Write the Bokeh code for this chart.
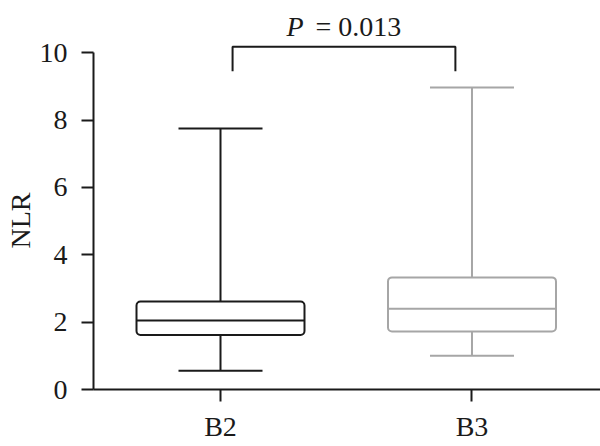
from bokeh.plotting import figure
from bokeh.models import Range1d, FixedTicker, ColumnDataSource, Title
from bokeh.core.properties import value
from bokeh.embed import file_html
from bokeh.resources import INLINE

# ---- data ----
groups = ["B2", "B3"]
positions = [1, 2]
whisker_low = [0.56, 1.0]
q1 = [1.62, 1.72]
median = [2.05, 2.40]
q3 = [2.61, 3.33]
whisker_high = [7.75, 8.97]
colors = ["#1a1a1a", "#a6a6a6"]
p_label = "0.013"
y_ticks = [0, 2, 4, 6, 8, 10]
y_title = "NLR"

FONT = "Liberation Serif"
FS = "28px"
INK = "#1a1a1a"

p = figure(width=600, height=446, output_backend="svg", toolbar_location=None,
           x_range=Range1d(0.495, 2.511), y_range=Range1d(0, 11.553),
           min_border_left=93, min_border_right=0, min_border_top=0,
           min_border_bottom=57)
p.outline_line_color = None
p.grid.visible = False
p.background_fill_color = "white"

box_w = 0.668
cap_w = 0.334
src = ColumnDataSource(dict(
    x=positions,
    left=[x - box_w / 2 for x in positions],
    right=[x + box_w / 2 for x in positions],
    capl=[x - cap_w / 2 for x in positions],
    capr=[x + cap_w / 2 for x in positions],
    lo=whisker_low, q1=q1, med=median, q3=q3, hi=whisker_high, color=colors))

# whiskers
p.segment(x0="x", y0="q3", x1="x", y1="hi", line_color="color", line_width=2, source=src)
p.segment(x0="x", y0="lo", x1="x", y1="q1", line_color="color", line_width=2, source=src)
p.segment(x0="capl", y0="hi", x1="capr", y1="hi", line_color="color", line_width=2, source=src)
p.segment(x0="capl", y0="lo", x1="capr", y1="lo", line_color="color", line_width=2, source=src)
# boxes
p.quad(left="left", right="right", bottom="q1", top="q3", fill_color="white",
       line_color="color", line_width=2, border_radius=4, source=src)
p.segment(x0="left", y0="med", x1="right", y1="med", line_color="color", line_width=2, source=src)

# significance bracket
br_x0, br_x1 = 1.048, 1.934
br_top, br_bot = 10.18, 9.45
p.line(x=[br_x0, br_x0, br_x1, br_x1], y=[br_bot, br_top, br_top, br_bot],
       line_color=INK, line_width=2)

# P value text
txt_y = 10.78
p.text(x=[1.262], y=[txt_y], text=["P"], text_font=value(FONT), text_font_size=FS,
       text_font_style="italic", text_color=INK, text_align="left",
       text_baseline="alphabetic")
p.text(x=[1.378], y=[txt_y], text=["= " + p_label], text_font=value(FONT),
       text_font_size=FS, text_color=INK, text_align="left",
       text_baseline="alphabetic")

# y-axis title (placed to match the original's position)
p.add_layout(Title(text=y_title, align="left", offset=141, standoff=2,
                   text_font=FONT, text_font_size=FS, text_font_style="normal",
                   text_color=INK), "left")

# axes
p.yaxis.bounds = (0, 10)
p.yaxis.ticker = FixedTicker(ticks=y_ticks)
p.xaxis.ticker = FixedTicker(ticks=positions)
p.xaxis.major_label_overrides = {1: groups[0], 2: groups[1]}
for ax in (p.xaxis[0], p.yaxis[0]):
    ax.axis_line_color = INK
    ax.axis_line_width = 2
    ax.major_tick_line_color = INK
    ax.major_tick_line_width = 2
    ax.major_tick_out = 12
    ax.major_tick_in = 0
    ax.minor_tick_line_color = None
    ax.major_label_text_font = FONT
    ax.major_label_text_font_size = FS
    ax.major_label_text_color = INK
p.yaxis.major_label_standoff = 14
p.xaxis.major_label_standoff = 9

open("out.html", "w").write(file_html(p, INLINE))
